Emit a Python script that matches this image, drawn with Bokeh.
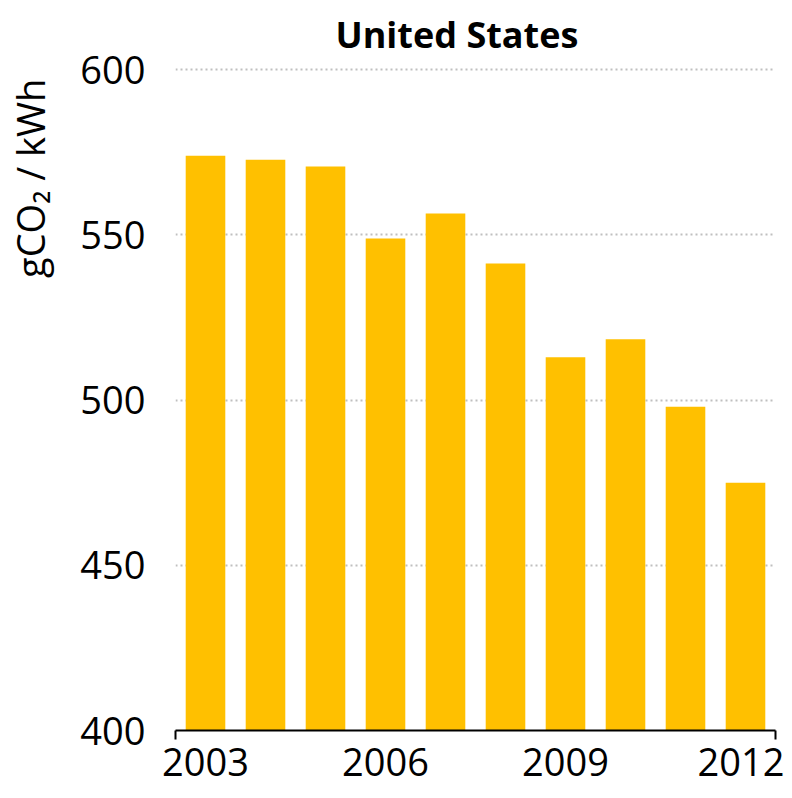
import math
from bokeh.plotting import figure
from bokeh.models import Range1d, FixedTicker, Label
from bokeh.layouts import row
from bokeh.embed import file_html
from bokeh.resources import INLINE

# ---- data ----
years = [2003, 2004, 2005, 2006, 2007, 2008, 2009, 2010, 2011, 2012]
intensity = [574.0, 572.8, 570.7, 548.9, 556.5, 541.4, 513.0, 518.4, 498.0, 475.0]
x_tick_years = [2003, 2006, 2009, 2012]
y_ticks = [400, 450, 500, 550, 600]
title_text = "United States"
y_label_text = "gCO\u2082 / kWh"

FONT = "Open Sans"

LEFT_W, TOTAL_W, TOTAL_H = 70, 784, 790
MAIN_W = TOTAL_W - LEFT_W

# ---- y-axis label column ----
left = figure(width=LEFT_W, height=TOTAL_H, output_backend="svg", toolbar_location=None,
              x_range=Range1d(0, LEFT_W), y_range=Range1d(0, TOTAL_H),
              x_axis_type=None, y_axis_type=None, title=None, min_border=0)
left.outline_line_color = None
left.background_fill_color = "white"
left.border_fill_color = "white"
left.grid.visible = False
left.add_layout(Label(x=29, y=TOTAL_H - 133, text=y_label_text, angle=math.pi / 2,
                      text_font=FONT, text_font_size="38px", text_color="black",
                      text_align="center", text_baseline="middle"))

# ---- main chart ----
p = figure(width=MAIN_W, height=TOTAL_H, output_backend="svg", toolbar_location=None,
           x_range=Range1d(years[0] - 0.5, years[-1] + 0.5),
           y_range=Range1d(y_ticks[0], y_ticks[-1] + 1),
           min_border_left=175 - LEFT_W, min_border_right=9,
           min_border_top=65, min_border_bottom=60)
p.outline_line_color = None
p.background_fill_color = "white"
p.border_fill_color = "white"

p.vbar(x=years, top=intensity, bottom=y_ticks[0], width=0.66,
       fill_color="#FFC000", line_color=None)

# x axis
p.xaxis.ticker = FixedTicker(ticks=x_tick_years,
                             minor_ticks=[years[0] - 0.5, years[-1] + 0.5])
p.xaxis.major_label_overrides = {y: str(y) for y in x_tick_years}
p.xaxis.major_tick_line_color = None
p.xaxis.major_tick_out = 0
p.xaxis.major_tick_in = 0
p.xaxis.minor_tick_line_color = "black"
p.xaxis.minor_tick_line_width = 2
p.xaxis.minor_tick_out = 9
p.xaxis.minor_tick_in = 0
p.xaxis.axis_line_color = "black"
p.xaxis.axis_line_width = 2
p.xaxis.major_label_text_font = FONT
p.xaxis.major_label_text_font_size = "38px"
p.xaxis.major_label_text_color = "black"
p.xaxis.major_label_standoff = 8

# y axis
p.yaxis.ticker = FixedTicker(ticks=y_ticks)
p.yaxis.axis_line_color = None
p.yaxis.major_tick_line_color = None
p.yaxis.minor_tick_line_color = None
p.yaxis.major_tick_out = 0
p.yaxis.major_tick_in = 0
p.yaxis.major_label_text_font = FONT
p.yaxis.major_label_text_font_size = "38px"
p.yaxis.major_label_text_color = "black"
p.yaxis.major_label_standoff = 30

# grid
p.xgrid.visible = False
p.ygrid.grid_line_color = "#BFBFBF"
p.ygrid.grid_line_width = 2
p.ygrid.grid_line_dash = "2 3"

# title
p.title.text = title_text
p.title.align = "left"
p.title.offset = 160
p.title.text_font = FONT
p.title.text_font_size = "36px"
p.title.text_font_style = "bold"
p.title.text_color = "black"
p.title.standoff = 15

layout = row(left, p, spacing=0)

open("out.html", "w").write(file_html(layout, INLINE))
